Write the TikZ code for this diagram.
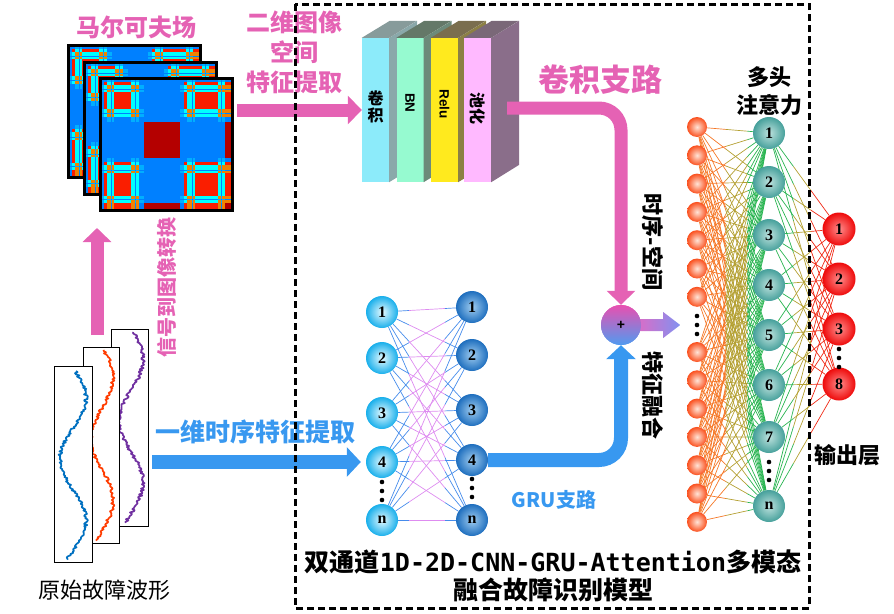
\documentclass[tikz,border=0pt]{standalone}
\usepackage{fontspec}
\setmainfont{Liberation Serif}
\newfontfamily\cjk{Noto Sans CJK SC}
\newfontfamily\latinmono{DejaVu Sans Mono}
\newfontfamily\arialb{Liberation Sans}
\usetikzlibrary{arrows.meta}
\usetikzlibrary{calc}
\usetikzlibrary{backgrounds}
\usetikzlibrary{positioning}

\definecolor{mpink}{RGB}{229,98,180}
\definecolor{mblue}{RGB}{56,152,240}
\definecolor{mtfblue}{RGB}{0,128,255}
\definecolor{mtfdark}{RGB}{180,0,0}
\definecolor{mtfred}{RGB}{250,30,0}
\definecolor{mtfcyan}{RGB}{0,255,255}
\definecolor{mtforange}{RGB}{240,130,0}
\definecolor{mtflight}{RGB}{0,175,255}
\definecolor{wblue}{RGB}{0,112,192}
\definecolor{wred}{RGB}{255,60,0}
\definecolor{wpurple}{RGB}{112,48,160}
\definecolor{convfront}{RGB}{140,235,250}
\definecolor{convside}{RGB}{138,168,170}
\definecolor{convtop}{RGB}{135,155,155}
\definecolor{bnfront}{RGB}{150,250,208}
\definecolor{bnside}{RGB}{108,138,122}
\definecolor{bntop}{RGB}{100,120,104}
\definecolor{relufront}{RGB}{255,234,30}
\definecolor{reluside}{RGB}{140,128,68}
\definecolor{relutop}{RGB}{122,110,78}
\definecolor{poolfront}{RGB}{255,185,255}
\definecolor{poolside}{RGB}{138,110,138}
\definecolor{pooltop}{RGB}{122,104,120}
\definecolor{inlight}{RGB}{255,228,215}
\definecolor{indark}{RGB}{250,80,30}
\definecolor{attlight}{RGB}{190,226,222}
\definecolor{attdark}{RGB}{70,160,155}
\definecolor{outlight}{RGB}{255,140,140}
\definecolor{outdark}{RGB}{238,10,10}
\definecolor{grullight}{RGB}{230,250,255}
\definecolor{gruldark}{RGB}{25,175,235}
\definecolor{grurlight}{RGB}{160,205,240}
\definecolor{grurdark}{RGB}{30,110,190}
\definecolor{lorange}{RGB}{245,120,40}
\definecolor{lolive}{RGB}{180,160,50}
\definecolor{lgreen}{RGB}{40,180,80}
\definecolor{lred}{RGB}{240,40,20}
\definecolor{gblue}{RGB}{70,140,235}
\definecolor{gpink}{RGB}{222,140,240}
\definecolor{plustop}{RGB}{232,80,176}
\definecolor{plusbottom}{RGB}{80,155,240}
\definecolor{fusepink}{RGB}{215,110,200}
\definecolor{fuseblue}{RGB}{130,145,240}

\tikzset{pinkarrow/.style = {draw=mpink, line width=13pt, -{Triangle[width=28pt,length=14pt]}},
         bluearrow/.style = {draw=mblue, line width=14pt, -{Triangle[width=29pt,length=14pt]}},
         dashframe/.style = {draw=black, line width=3pt, dash pattern=on 7pt off 4pt},
         panel/.style = {draw=black, fill=white, line width=0.9pt},
         wave/.style = {line width=1.7pt, line join=round},
         blockface/.style = {minimum width=27pt, minimum height=144pt, inner sep=0pt},
         netball/.style = {circle, inner sep=0pt, font=\bfseries\fontsize{16}{16}\selectfont},
         inball/.style = {netball, minimum size=20pt, inner color=inlight, outer color=indark},
         attball/.style = {netball, minimum size=32pt, inner color=attlight, outer color=attdark},
         outball/.style = {netball, minimum size=33pt, inner color=outlight, outer color=outdark},
         gruleft/.style = {netball, minimum size=32pt, inner color=grullight, outer color=gruldark},
         gruright/.style = {netball, minimum size=32pt, inner color=grurlight, outer color=grurdark},
         plusnode/.style = {circle, minimum size=40pt, inner sep=0pt, top color=plustop, bottom color=plusbottom,
                            font=\arialb\bfseries\fontsize{14}{14}\selectfont},
         pinklabel/.style = {text=mpink, font=\cjk\bfseries\fontsize{24}{30}\selectfont, align=center, inner sep=0pt},
         bluelabel/.style = {text=mblue, font=\cjk\bfseries\fontsize{25}{30}\selectfont, inner sep=0pt},
         blacklabel/.style = {text=black, font=\cjk\bfseries\fontsize{22}{28}\selectfont, align=center, inner sep=0pt},
         blockcjk/.style = {font=\cjk\bfseries\fontsize{16}{17}\selectfont, align=center, inner sep=0pt},
         blocklatin/.style = {font=\arialb\bfseries\fontsize{13.5}{13.5}\selectfont, inner sep=0pt, rotate=-90},
         linea/.style = {draw=lorange, line width=0.7pt},
         lineb/.style = {draw=lolive, line width=0.7pt},
         linec/.style = {draw=lgreen, line width=0.7pt},
         lined/.style = {draw=lred, line width=0.7pt},
         grublue/.style = {draw=gblue, line width=0.7pt},
         grupink/.style = {draw=gpink, line width=0.7pt}}

\newcommand\mtfsegs{0/4/0,4/7/2,7/11/1,11/12/0,12/14/1,14/31/2,31/35/1,35/36/0,36/39/1,39/44/0,44/80/3,
                    80/84/0,84/87/2,87/92/1,92/93/0,93/95/1,95/118/2,118/121/1,121/122/0,122/125/1,125/132/4}
\newcommand\mtfcell[2]{%
  \def\cellcol{mtfblue}%
  \ifnum#1#2=33 \def\cellcol{mtfdark}\fi
  \ifnum#1#2=34 \def\cellcol{mtfdark}\fi
  \ifnum#1#2=43 \def\cellcol{mtfdark}\fi
  \ifnum#1#2=44 \def\cellcol{mtfdark}\fi
  \ifnum#1#2=22 \def\cellcol{mtfred}\fi
  \ifnum#1#2=24 \def\cellcol{mtfred}\fi
  \ifnum#1#2=42 \def\cellcol{mtfred}\fi
  \ifnum#1#2=12 \def\cellcol{mtfcyan}\fi
  \ifnum#1#2=21 \def\cellcol{mtfcyan}\fi
  \ifnum#1#2=11 \def\cellcol{mtforange}\fi
  \ifnum#1#2=14 \def\cellcol{mtforange}\fi
  \ifnum#1#2=41 \def\cellcol{mtforange}\fi
  \ifnum#1#2=1 \def\cellcol{mtflight}\fi
  \ifnum#1#2=10 \def\cellcol{mtflight}\fi}
\newcommand\markovfield[2]{%
  \begin{scope}[shift={(#1,#2)}]
    \foreach \ra/\rb/\rs in \mtfsegs {
      \foreach \ca/\cb/\cs in \mtfsegs {
        \mtfcell{\rs}{\cs}
        \fill[\cellcol] (\ca,\ra) rectangle (\cb,\rb);
      }
    }
    \draw[line width=3pt] (0,0) rectangle (132,132);
  \end{scope}}

\begin{document}
\begin{tikzpicture}[x=1pt, y=-1pt]
    \useasboundingbox (0,0) rectangle (894,613);
    \pgfmathsetseed{7}

    \markovfield{68}{45}
    \markovfield{84}{62}
    \markovfield{100}{78}
    \node[pinklabel] (mtflabel) at (136,27) {马尔可夫场};

    \draw[panel] (111,329) rectangle (148,526);
    \draw[wave, wpurple] plot[domain=0:1, samples=170] ({131+12*sin(558*\x+10)+1.8*rand}, {332+191*\x});
    \draw[panel] (83,347) rectangle (119,543);
    \draw[wave, wred] plot[domain=0:1, samples=170] ({102+11*sin(558*\x+10)+1.8*rand}, {350+191*\x});
    \draw[panel] (54,366) rectangle (92,562);
    \draw[wave, wblue] plot[domain=0:1, samples=170] ({73+13*sin(558*\x+10)+1.8*rand}, {371+189*\x});
    \node[font=\cjk\fontsize{22}{26}\selectfont, inner sep=0pt] (wavelabel) at (104,590) {原始故障波形};

    \coordinate (sigbot) at (97,335);
    \coordinate (sigtop) at (97,228);
    \draw[pinkarrow] (sigbot) -- (sigtop);
    \node[pinklabel, font=\cjk\bfseries\fontsize{20}{24}\selectfont, rotate=90] (siglabel) at (167,287) {信号到图像转换};

    \foreach \n/\x/\fc/\sc/\tc in {conv/375.5/convfront/convside/convtop, bn/410/bnfront/bnside/bntop,
                                    relu/444.5/relufront/reluside/relutop, pool/477.5/poolfront/poolside/pooltop} {
      \node[blockface, fill=\fc] (\n) at (\x,110) {};
      \fill[\sc] (\n.north east) -- ++(28,-17) -- ++(0,144) -- (\n.south east) -- cycle;
      \fill[\tc] (\n.north west) -- ++(28,-17) -- ++(27,0) -- (\n.north east) -- cycle;
    }
    \node[blockcjk] (convtext) at (375.5,107) {卷\\积};
    \node[blocklatin] (bntext) at (410,103) {BN};
    \node[blocklatin] (relutext) at (444.5,104) {Relu};
    \node[blockcjk, rotate=-90] (pooltext) at (477.5,108) {池化};

    \coordinate (imgout) at (237,110);
    \draw[pinkarrow] (imgout) -- (conv.west);
    \node[pinklabel] (imglabel) at (294,52) {二维图像\\空间\\特征提取};

    \foreach \k/\y/\t in {1/312/1, 2/358/2, 3/413/3, 4/462/4, 5/520/n}
      \node[gruleft] (g\k) at (382,\y) {\t};
    \foreach \k/\y/\t in {1/307/1, 2/355/2, 3/410/3, 4/460/4, 5/520/n}
      \node[gruright] (h\k) at (472,\y) {\t};

    \foreach \k in {1,...,7}
      \node[inball] (in\k) at (697,{127+28.3*(\k-1)}) {};
    \foreach \k in {8,...,14}
      \node[inball] (in\k) at (697,{352+28.3*(\k-8)}) {};
    \foreach \k/\y/\t in {1/133/1, 2/182/2, 3/235/3, 4/285/4, 5/335/5, 6/385/6, 7/437/7, 8/506/n}
      \node[attball] (att\k) at (769,\y) {\t};
    \foreach \k/\y/\t in {1/229/1, 2/279/2, 3/329/3, 4/384/8}
      \node[outball] (out\k) at (839,\y) {\t};

    \foreach \x/\y in {382/482, 472/479, 697/316, 769/462, 839/349}
      \foreach \d in {0,1,2}
        \fill (\x,{\y+\d*9}) circle (2.3);

    \begin{pgfonlayer}{background}
      \foreach \i in {1,...,14} {
        \foreach \j in {1,...,8} {
          \draw[linea] (in\i) -- ($(in\i)!.4!(att\j)$);
          \draw[lineb] ($(in\i)!.4!(att\j)$) -- ($(in\i)!.7!(att\j)$);
          \draw[linec] ($(in\i)!.7!(att\j)$) -- (att\j);
        }
      }
      \foreach \i in {1,...,8} {
        \foreach \j in {1,...,4} {
          \draw[linec] (att\i) -- ($(att\i)!.35!(out\j)$);
          \draw[lineb] ($(att\i)!.35!(out\j)$) -- ($(att\i)!.6!(out\j)$);
          \draw[lined] ($(att\i)!.6!(out\j)$) -- (out\j);
        }
      }
      \foreach \i in {1,...,5} {
        \foreach \j in {1,...,5} {
          \draw[grublue] (g\i) -- ($(g\i)!.3!(h\j)$);
          \draw[grupink] ($(g\i)!.3!(h\j)$) -- ($(g\i)!.7!(h\j)$);
          \draw[grublue] ($(g\i)!.7!(h\j)$) -- (h\j);
        }
      }
    \end{pgfonlayer}

    \coordinate (waveout) at (152,462);
    \draw[bluearrow, shorten >=5pt] (waveout) -- (g4.west);
    \node[bluelabel] (seqlabel) at (255,432) {一维时序特征提取};

    \node[plusnode] (plus) at (621,325) {+};
    \shade[left color=fusepink, right color=fuseblue] ($(plus.east)+(-2,-6)$) -- ++(24,0) -- ++(0,-7)
        -- ++(17,13) -- ++(-17,13) -- ++(0,-7) -- ++(-24,0) -- cycle;
    \node[plusnode] at (plus) {+};

    \coordinate (poolout) at (507,108);
    \draw[pinkarrow, rounded corners=22pt] (poolout) -| (plus.north);
    \draw[bluearrow, rounded corners=22pt] (h4.east) -| (plus.south);
    \node[pinklabel, font=\cjk\bfseries\fontsize{31}{34}\selectfont] (convlabel) at (600,80) {卷积支路};
    \node[bluelabel, font=\cjk\bfseries\fontsize{20}{24}\selectfont] (grulabel) at (554,500) {GRU支路};

    \node[blacklabel, rotate=-90] (fuselabela) at (653,242) {时序-空间};
    \node[blacklabel, rotate=-90] (fuselabelb) at (653,395) {特征融合};
    \node[blacklabel, above=1pt of att1] (attlabel) {多头\\注意力};
    \node[blacklabel] (outlabel) at (847,455) {输出层};

    \node[blacklabel, font=\bfseries\fontsize{25}{28}\selectfont] (modellabel) at (553,576)
        {{\cjk 双通道}{\latinmono 1D-2D-CNN-GRU-Attention}{\cjk 多模态}\\{\cjk 融合故障识别模型}};

    \draw[dashframe] (295,4) rectangle (809,608);
\end{tikzpicture}
\end{document}
